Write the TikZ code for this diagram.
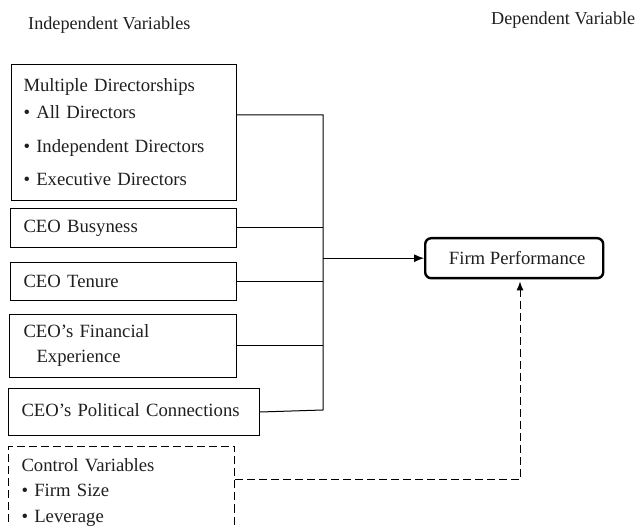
\documentclass[tikz,border=0pt]{standalone}
\usepackage{fontspec}
\setmainfont{Liberation Serif}
\usetikzlibrary{arrows.meta}
\begin{document}
\begin{tikzpicture}[x=1pt,y=-1pt,
  every node/.style={font=\fontsize{18.7}{27}\selectfont, text=black!88},
  hdr/.style={anchor=base west, inner sep=0pt, font=\fontsize{18.2}{22}\selectfont},
  box/.style={draw, line width=1pt, anchor=north west, align=left, inner xsep=12.5pt, inner ysep=0pt},
  ctrlbox/.style={box, dash pattern=on 8pt off 4pt},
  fpbox/.style={draw, line width=2.4pt, rounded corners=6pt, anchor=north west, minimum width=178pt, minimum height=40pt, inner sep=0pt},
  link/.style={line width=1pt},
  arr/.style={line width=1pt, -{Latex[length=10pt,width=8pt]}},
  darr/.style={line width=1pt, dash pattern=on 8pt off 4pt, -{Latex[length=9pt,width=7pt]}}]
\useasboundingbox (0,0) rectangle (643,526);
\clip (0,0) rectangle (643,526);
% headers
\node[hdr] (hind) at (28,30) {Independent Variables};
\node[hdr] (hdep) at (491,25) {Dependent Variable};
% boxes
\node[box, text width=200.5pt, minimum height=136pt] (b1) at (10.5,64)
  {Multiple Directorships\\ • All Directors\\[7pt] • Independent Directors\\[6pt] • Executive Directors};
\node[box, text width=200pt, inner xsep=13pt, minimum height=39pt] (b2) at (10,208) {CEO Busyness};
\node[box, text width=200pt, inner xsep=13pt, minimum height=38pt] (b3) at (10,262) {CEO Tenure};
\node[box, text width=199pt, inner xsep=14pt, minimum height=63pt] (b4) at (9,314)
  {CEO’s Financial\\[-2pt]\hspace*{13pt}Experience};
\node[box, text width=225pt, inner xsep=13pt, minimum height=47pt] (b5) at (8,388)
  {\raisebox{3pt}{CEO’s Political Connections}};
\node[ctrlbox, text width=200pt, inner xsep=13pt, minimum height=92pt] (ctrl) at (8,446)
  {Control Variables\\[-2pt] • Firm Size\\[-1pt] • Leverage};
\node[fpbox] (fp) at (424,237) {\hspace*{6pt}Firm Performance};
% bus
\coordinate (bustop) at (323,115);
\coordinate (busbot) at (323,410);
\coordinate (dcorner) at (520,480);
\draw[link] (b1.east |- bustop) -- (bustop) -- (busbot) -- (b5.east);
\draw[link] (b2.east) -- (b2.east -| bustop);
\draw[link] (b3.east) -- (b3.east -| bustop);
\draw[link] (b4.east) -- (b4.east -| bustop);
\draw[arr] (fp.west -| bustop) -- (fp.west);
\draw[darr, shorten >=2pt] (ctrl.east |- dcorner) -- (dcorner) -- (fp.south -| dcorner);
\end{tikzpicture}
\end{document}
